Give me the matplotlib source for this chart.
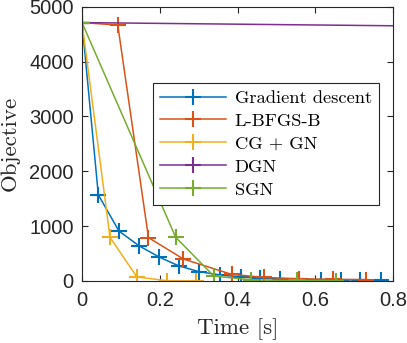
import numpy as np
import matplotlib as mpl
mpl.use("Agg")
import matplotlib.pyplot as plt

# data (time in s, objective)
gd_t = [0, 0.042, 0.095, 0.147, 0.199, 0.249, 0.301, 0.355, 0.408, 0.458, 0.509, 0.559, 0.614, 0.665, 0.716, 0.768]
gd_y = [4710, 1570, 910, 640, 435, 275, 170, 110, 72, 52, 38, 30, 25, 20, 17, 15]

lb_t = [0, 0.092, 0.171, 0.261, 0.385, 0.469, 0.559, 0.645, 0.730]
lb_y = [4710, 4665, 790, 400, 120, 65, 40, 30, 25]

cg_t = [0, 0.072, 0.141, 0.219, 0.293]
cg_y = [4710, 795, 75, 5, 2]

dgn_t = [0, 0.9]
dgn_y = [4710, 4645]

sgn_t = [0, 0.241, 0.339, 0.436, 0.552, 0.653]
sgn_y = [4710, 796, 90, 20, 10, 5]

names = ["Gradient descent", "L-BFGS-B", "CG + GN", "DGN", "SGN"]
colors = ["#0072BD", "#D95319", "#EDB120", "#7E2F8E", "#77AC30"]

fig = plt.figure(figsize=(4.07, 3.43), dpi=100)
ax = fig.add_axes([0.2015, 0.1808, 0.7641, 0.7997])

series = [(gd_t, gd_y), (lb_t, lb_y), (cg_t, cg_y), (dgn_t, dgn_y), (sgn_t, sgn_y)]
for (t, y), name, col in zip(series, names, colors):
    ax.plot(t, y, '-', marker='+', color=col, label=name, linewidth=1.1,
            markersize=11, markeredgewidth=1.5)

ax.set_xlim(0, 0.8)
ax.set_ylim(0, 5000)
ax.set_xticks([0, 0.2, 0.4, 0.6, 0.8])
ax.set_xticklabels(["0", "0.2", "0.4", "0.6", "0.8"])
ax.set_yticks([0, 1000, 2000, 3000, 4000, 5000])
ax.set_yticklabels(["0", "1000", "2000", "3000", "4000", "5000"])

for lab in ax.get_xticklabels() + ax.get_yticklabels():
    lab.set_family("Liberation Sans")
    lab.set_fontsize(14.5)
    lab.set_color("#262626")

ax.tick_params(direction='in', top=True, right=True, length=4, width=0.8, color="#262626")
ax.tick_params(axis='x', pad=7)
ax.tick_params(axis='y', pad=6)
for s in ax.spines.values():
    s.set_color("#262626")
    s.set_linewidth(0.8)

ax.set_xlabel("Time [s]", family="cmr10", fontsize=16.5, color="#262626", labelpad=6)
ax.set_ylabel("Objective", family="cmr10", fontsize=16.5, color="#262626", labelpad=7)

leg = ax.legend(loc='upper left', bbox_to_anchor=(0.227, 0.723), borderaxespad=0,
                prop={"family": "cmr10", "size": 13.3},
                frameon=True, fancybox=False, edgecolor="#262626", framealpha=1,
                handlelength=3.6, borderpad=0.4, labelspacing=0.38, handletextpad=0.45)
leg.get_frame().set_linewidth(0.8)

fig.savefig("out.png", dpi=100)
